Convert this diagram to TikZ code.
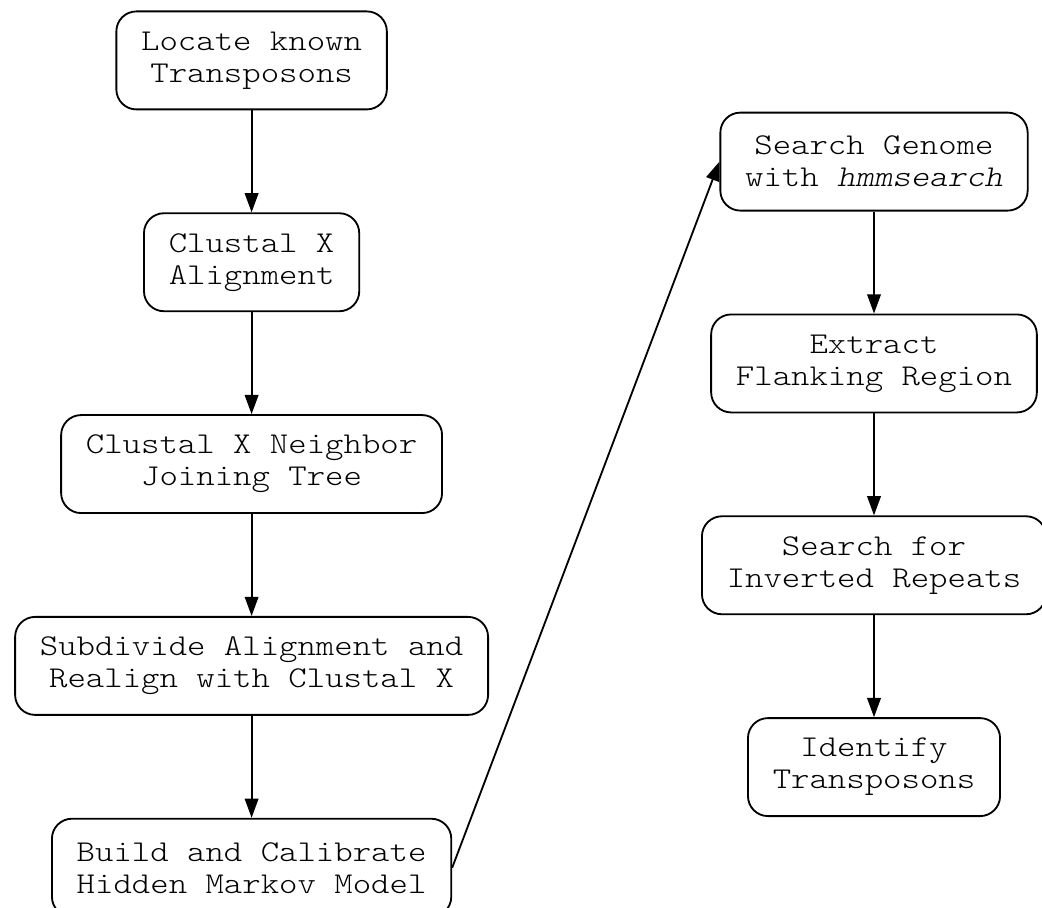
\documentclass[tikz,border=0pt]{standalone}
\usepackage{fontspec}
\setmonofont{lmmonolt10-regular.otf}[FakeStretch=1.16, ItalicFont=lmmonolt10-oblique.otf]
\usetikzlibrary{arrows.meta, positioning}

\begin{document}
\begin{tikzpicture}[
    node distance=2.55cm,
    stepbox/.style={rectangle, draw=black, rounded corners=0.5cm, align=center, inner xsep=0.62cm, minimum height=2.45cm, font=\ttfamily\fontsize{21.5}{22.8}\selectfont, line width=1.3pt},
    arrow/.style={line width=1.3pt, -{Triangle[length=0.48cm, width=0.34cm]}}
]
    \useasboundingbox (0,0) rectangle (26.05,-22.675);

    % Left column
    \node (locate) [stepbox] at (6.29,-1.51) {Locate known\\Transposons};
    \node (align) [stepbox, below=of locate] {Clustal X\\Alignment};
    \node (tree) [stepbox, below=of align] {Clustal X Neighbor\\Joining Tree};
    \node (realign) [stepbox, below=of tree] {Subdivide Alignment and\\Realign with Clustal X};
    \node (hmm) [stepbox, below=of realign] {Build and Calibrate\\Hidden Markov Model};

    % Right column
    \node (search) [stepbox] at (21.85,-4.04) {Search Genome\\with \textit{hmmsearch}};
    \node (flank) [stepbox, below=of search] {Extract\\Flanking Region};
    \node (repeats) [stepbox, below=of flank] {Search for\\Inverted Repeats};
    \node (identify) [stepbox, below=of repeats] {Identify\\Transposons};

    % Arrows
    \draw [arrow] (locate) -- (align);
    \draw [arrow] (align) -- (tree);
    \draw [arrow] (tree) -- (realign);
    \draw [arrow] (realign) -- (hmm);
    \draw [arrow] (hmm.east) -- (search.west);
    \draw [arrow] (search) -- (flank);
    \draw [arrow] (flank) -- (repeats);
    \draw [arrow] (repeats) -- (identify);

\end{tikzpicture}
\end{document}
